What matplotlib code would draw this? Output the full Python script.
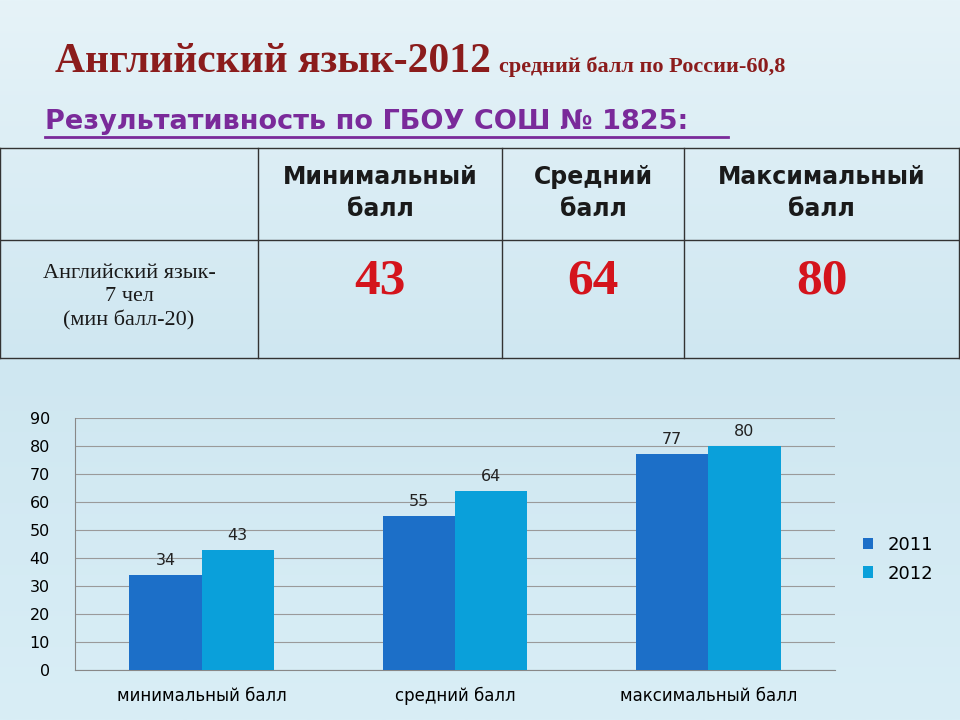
import matplotlib
matplotlib.use("Agg")
import matplotlib.pyplot as plt
import numpy as np
from matplotlib.lines import Line2D
from matplotlib.colors import LinearSegmentedColormap

categories = ["минимальный балл", "средний балл", "максимальный балл"]
v2011 = [34, 55, 77]
v2012 = [43, 64, 80]
series_names = ["2011", "2012"]
table_headers = ["Минимальный\nбалл", "Средний\nбалл", "Максимальный\nбалл"]
table_row_label = "Английский язык-\n7 чел\n(мин балл-20)"
table_values = ["43", "64", "80"]

fig = plt.figure(figsize=(9.6, 7.2), dpi=100)
bg = fig.add_axes([0, 0, 1, 1], zorder=-10)
grad = np.linspace(0, 1, 256).reshape(-1, 1)
cm = LinearSegmentedColormap.from_list("bg", ["#e6f3f8", "#cfe7f1", "#d9eef6"])
bg.imshow(grad, aspect="auto", cmap=cm, extent=[0, 1, 0, 1])
bg.axis("off")

W, H = 960, 720
def fx(x): return x / W
def fy(y): return 1 - y / H

red = "#8b1c1c"
t1 = fig.text(fx(55), fy(62), "Английский язык-2012", family="Liberation Serif",
              fontsize=30, fontweight="bold", color=red, va="center")
fig.canvas.draw()
bb = t1.get_window_extent()
fig.text(bb.x1 / W + 0.008, fy(67), "средний балл по России-60,8", family="Liberation Serif",
         fontsize=16, fontweight="bold", color=red, va="center")
fig.text(fx(45), fy(122), "Результативность по ГБОУ СОШ № 1825:", fontsize=19.5,
         fontweight="bold", color="#7a2a9a", va="center", family="DejaVu Sans")
fig.add_artist(Line2D([fx(45), fx(728)], [fy(137), fy(137)], color="#7a2a9a", lw=2))

lc = "#333333"
cols = [0, 258, 502, 684, 959]
for y in [148, 240, 358]:
    fig.add_artist(Line2D([fx(0), fx(959)], [fy(y), fy(y)], color=lc, lw=1))
for x in cols:
    fig.add_artist(Line2D([fx(x), fx(x)], [fy(148), fy(358)], color=lc, lw=1))
centers = [(cols[i] + cols[i + 1]) / 2 for i in range(1, 4)]
for c, h in zip(centers, table_headers):
    fig.text(fx(c), fy(193), h, ha="center", va="center", fontsize=17,
             fontweight="bold", color="#1a1a1a", linespacing=1.45)
fig.text(fx(129), fy(297), table_row_label, ha="center", va="center", fontsize=16,
         family="Liberation Serif", color="#1a1a1a", linespacing=1.3)
for c, v in zip(centers, table_values):
    fig.text(fx(c), fy(282), v, ha="center", va="center", fontsize=37,
             fontweight="bold", family="Liberation Serif", color="#d4141c")

ax = fig.add_axes([fx(75), fy(670), fx(835) - fx(75), fy(418) - fy(670)])
ax.set_facecolor("none")
x = np.arange(len(categories))
w = 0.285
b1 = ax.bar(x - w / 2, v2011, w, color="#1c6fc8", label=series_names[0], zorder=3)
b2 = ax.bar(x + w / 2, v2012, w, color="#0aa0da", label=series_names[1], zorder=3)
for bars in (b1, b2):
    for r in bars:
        ax.text(r.get_x() + r.get_width() / 2, r.get_height() + 2.5, f"{int(r.get_height())}",
                ha="center", va="bottom", fontsize=11.5, color="#222222")
ax.set_xlim(-0.5, 2.5)
ax.set_ylim(0, 90)
ax.set_yticks(range(0, 91, 10))
ax.yaxis.grid(True, color="#9a9a9a", lw=0.8, zorder=0)
ax.set_xticks(x)
ax.set_xticklabels(categories, fontsize=12)
ax.tick_params(axis="y", labelsize=11.5, length=0, pad=18)
ax.tick_params(axis="x", length=0, pad=12)
for s in ["top", "right"]:
    ax.spines[s].set_visible(False)
ax.spines["left"].set_color("#888888")
ax.spines["bottom"].set_color("#888888")
ax.legend(loc="center left", bbox_to_anchor=(1.015, 0.44), frameon=False, fontsize=13,
          handlelength=0.6, handleheight=0.6, labelspacing=0.6)

fig.savefig("out.png", dpi=100)
